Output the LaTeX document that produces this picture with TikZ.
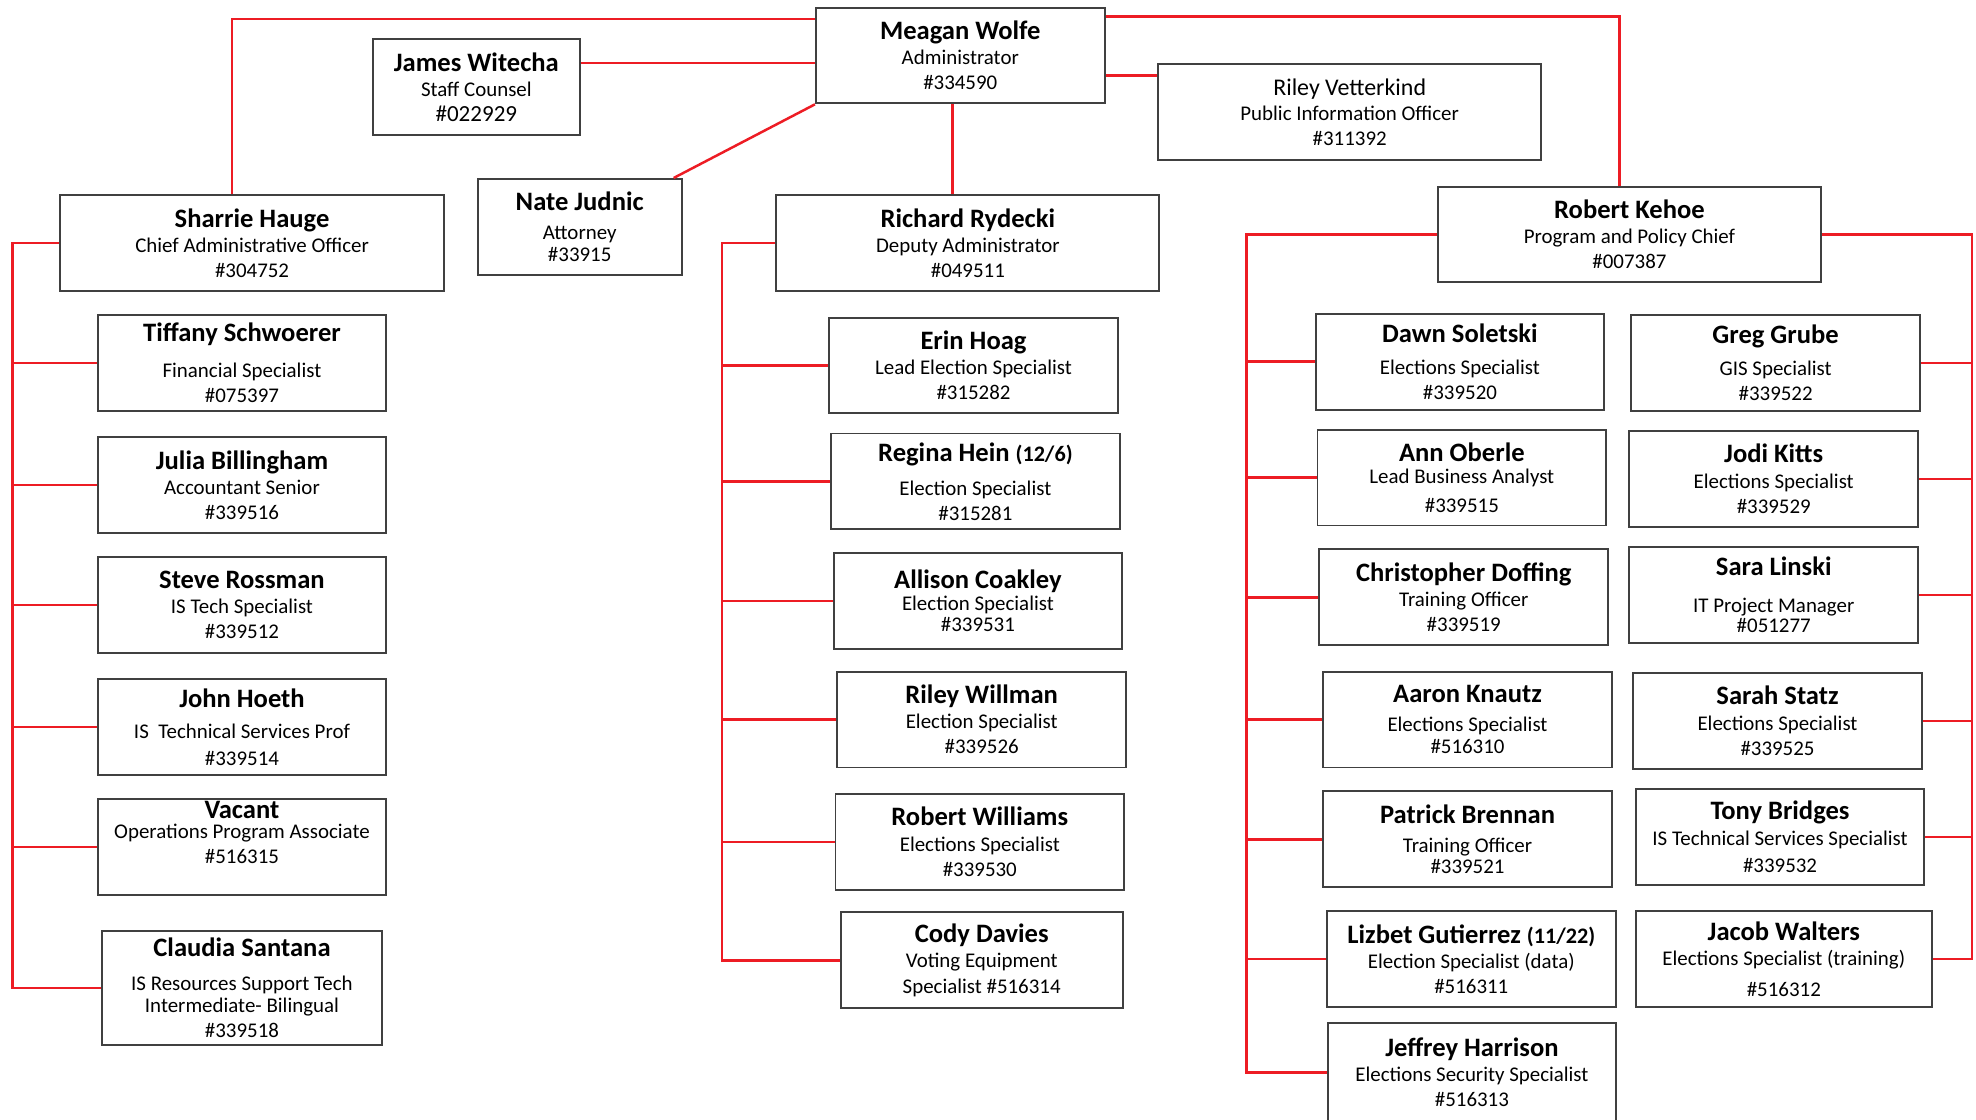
\documentclass[tikz,border=0pt]{standalone}
\usepackage{fontspec}
\setmainfont{Carlito}
\definecolor{linkred}{RGB}{237,28,36}
\definecolor{boxgray}{RGB}{64,64,64}
\newcommand{\pname}[1]{{\fontsize{15}{17}\selectfont\bfseries #1}}
\newcommand{\pnote}[1]{{\fontsize{12.5}{14}\selectfont #1}}

\begin{document}
\begin{tikzpicture}[x=0.025cm,y=-0.025cm,
    person/.style={draw=boxgray,line width=1.1pt,fill=white,minimum height=1.9cm,inner sep=1pt,align=center,font=\fontsize{11.8}{14.2}\selectfont},
    staff/.style={person,minimum width=5.725cm},
    chief/.style={person,minimum width=7.6cm},
    link/.style={draw=linkred,line width=1.4pt}]
        \useasboundingbox (0,0) rectangle (1568,888);
        \clip (0,0) rectangle (1568,888);
        \node[staff] (wolfe) at (762,44) {\pname{Meagan Wolfe}\\Administrator\\\#334590};
        \node[person,minimum width=4.1cm] (witecha) at (378,69) {\pname{James Witecha}\\Staff Counsel\\{\fontsize{13}{15}\selectfont\#022929}};
        \node[chief] (vetterkind) at (1071,89) {{\fontsize{13.5}{16}\selectfont Riley Vetterkind}\\Public Information Officer\\\#311392};
        \node[person,minimum width=4.05cm] (judnic) at (460,180) {\pname{Nate Judnic}\\[2pt]Attorney\\[-2pt]\#33915};
        \node[chief] (hauge) at (200,193) {\pname{Sharrie Hauge}\\Chief Administrative Officer\\\#304752};
        \node[chief] (rydecki) at (768,193) {\pname{Richard Rydecki}\\Deputy Administrator\\\#049511};
        \node[chief,minimum height=1.875cm] (kehoe) at (1293,186) {\pname{Robert Kehoe}\\Program and Policy Chief\\\#007387};
        % administration
        \node[staff] (schwoerer) at (192,288) {\pname{Tiffany Schwoerer}\\[6pt]Financial Specialist\\\#075397};
        \node[staff] (billingham) at (192,385) {\pname{Julia Billingham}\\Accountant Senior\\\#339516};
        \node[staff] (rossman) at (192,480) {\pname{Steve Rossman}\\IS Tech Specialist\\\#339512};
        \node[staff] (hoeth) at (192,577) {\pname{John Hoeth}\\[3pt]IS\ \ Technical Services Prof\\[1pt]\#339514};
        \node[staff] (vacant) at (192,672) {\pname{Vacant}\\[-3pt]Operations Program Associate\\\#516315\\[2pt]};
        \node[staff,minimum width=5.55cm,minimum height=2.25cm] (santana) at (192,784) {\pname{Claudia Santana}\\[5pt]IS Resources Support Tech\\[-2pt]Intermediate- Bilingual\\\#339518};
        % deputy
        \node[staff] (hoag) at (772.5,290) {\pname{Erin Hoag}\\Lead Election Specialist\\\#315282};
        \node[staff] (hein) at (774,382) {\pname{Regina Hein \pnote{(12/6)}}\\[5pt]Election Specialist\\\#315281};
        \node[staff] (coakley) at (776,477) {\pname{Allison Coakley}\\[-2pt]Election Specialist\\[-2pt]\#339531};
        \node[staff] (willman) at (779,571) {\pname{Riley Willman}\\Election Specialist\\\#339526};
        \node[staff] (williams) at (777.5,668) {\pname{Robert Williams}\\Elections Specialist\\\#339530};
        \node[staff,minimum width=5.6cm] (davies) at (779,762) {\pname{Cody Davies}\\Voting Equipment\\Specialist \#516314};
        % program and policy
        \node[staff] (soletski) at (1158.5,287) {\pname{Dawn Soletski}\\[4pt]Elections Specialist\\\#339520};
        \node[staff] (oberle) at (1160,379) {\pname{Ann Oberle}\\[-2pt]Lead Business Analyst\\[2pt]\#339515};
        \node[staff] (doffing) at (1161.5,474) {\pname{Christopher Doffing}\\Training Officer\\\#339519};
        \node[staff] (knautz) at (1164.5,571) {\pname{Aaron Knautz}\\[2pt]Elections Specialist\\[-2pt]\#516310};
        \node[staff] (brennan) at (1164.5,666) {\pname{Patrick Brennan}\\[2pt]Training Officer\\[-2pt]\#339521};
        \node[staff] (gutierrez) at (1167.5,761) {\pname{Lizbet Gutierrez \pnote{(11/22)}}\\Election Specialist (data)\\\#516311};
        \node[staff,minimum height=1.95cm] (harrison) at (1168,851) {\pname{Jeffrey Harrison}\\Elections Security Specialist\\\#516313};
        \node[staff] (grube) at (1409,288) {\pname{Greg Grube}\\[4pt]GIS Specialist\\\#339522};
        \node[staff] (kitts) at (1407.5,380) {\pname{Jodi Kitts}\\Elections Specialist\\\#339529};
        \node[staff] (linski) at (1407.5,472) {\pname{Sara Linski}\\[7pt]IT Project Manager\\[-3pt]\#051277};
        \node[staff] (statz) at (1410.5,572) {\pname{Sarah Statz}\\Elections Specialist\\\#339525};
        \node[staff] (bridges) at (1412.5,664) {\pname{Tony Bridges}\\IS Technical Services Specialist\\[1pt]\#339532};
        \node[staff,minimum width=5.875cm] (walters) at (1415.5,761) {\pname{Jacob Walters}\\Elections Specialist (training)\\[3pt]\#516312};
        % links from the administrator
        \draw[link] ([yshift=-0.25cm]wolfe.north west) -| ([xshift=-0.4cm]hauge.north);
        \draw[link] ([yshift=-0.2cm]wolfe.north east) -| ([xshift=-0.2cm]kehoe.north);
        \coordinate (jw) at ([yshift=0.475cm]witecha.east);
        \draw[link] (jw) -- (jw -| wolfe.west);
        \coordinate (rv) at ([yshift=0.725cm]vetterkind.west);
        \draw[link] (rv) -- (rv -| wolfe.east);
        \draw[link] (wolfe.south west) -- ([xshift=-0.18cm]judnic.north east);
        \draw[link] ([xshift=-0.15cm]wolfe.south) -- ([xshift=-0.15cm]wolfe.south |- rydecki.north);
        % bus lines
        \coordinate (busA) at (10,0);
        \coordinate (busB) at (573,0);
        \coordinate (busC) at (989,0);
        \coordinate (busD) at (1565,0);
        \draw[link] (hauge.west) -- (hauge.west -| busA) |- (santana.west);
        \draw[link] (schwoerer.west) -- (schwoerer.west -| busA);
        \draw[link] (billingham.west) -- (billingham.west -| busA);
        \draw[link] (rossman.west) -- (rossman.west -| busA);
        \draw[link] (hoeth.west) -- (hoeth.west -| busA);
        \draw[link] (vacant.west) -- (vacant.west -| busA);
        \draw[link] (rydecki.west) -- (rydecki.west -| busB) |- (davies.west);
        \draw[link] (hoag.west) -- (hoag.west -| busB);
        \draw[link] (hein.west) -- (hein.west -| busB);
        \draw[link] (coakley.west) -- (coakley.west -| busB);
        \draw[link] (willman.west) -- (willman.west -| busB);
        \draw[link] (williams.west) -- (williams.west -| busB);
        \draw[link] (kehoe.west) -- (kehoe.west -| busC) |- (harrison.west);
        \draw[link] (soletski.west) -- (soletski.west -| busC);
        \draw[link] (oberle.west) -- (oberle.west -| busC);
        \draw[link] (doffing.west) -- (doffing.west -| busC);
        \draw[link] (knautz.west) -- (knautz.west -| busC);
        \draw[link] (brennan.west) -- (brennan.west -| busC);
        \draw[link] (gutierrez.west) -- (gutierrez.west -| busC);
        \draw[link] (kehoe.east) -- (kehoe.east -| busD) |- (walters.east);
        \draw[link] (grube.east) -- (grube.east -| busD);
        \draw[link] (kitts.east) -- (kitts.east -| busD);
        \draw[link] (linski.east) -- (linski.east -| busD);
        \draw[link] (statz.east) -- (statz.east -| busD);
        \draw[link] (bridges.east) -- (bridges.east -| busD);
\end{tikzpicture}
\end{document}
